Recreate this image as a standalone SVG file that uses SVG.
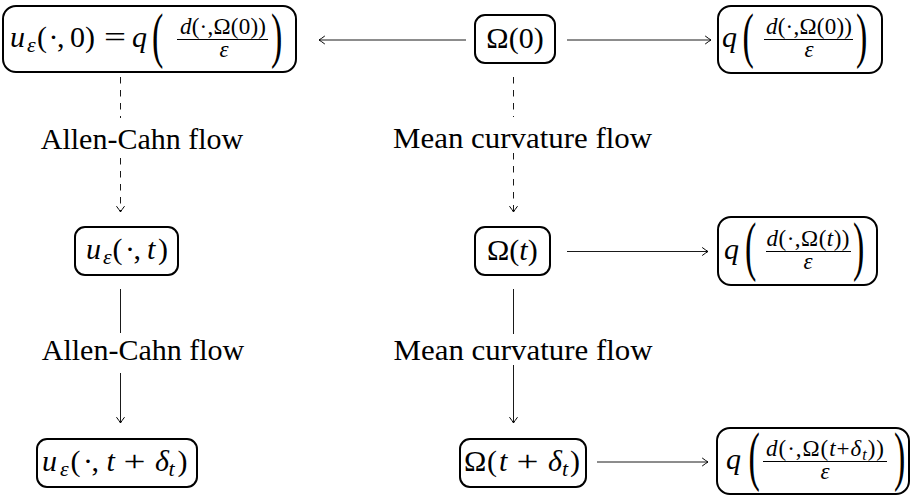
<svg xmlns="http://www.w3.org/2000/svg" width="911" height="495" viewBox="0 0 911 495" font-family="'Liberation Serif', 'DejaVu Serif', serif">
<style>
text{font-family:'Liberation Serif','DejaVu Serif',serif;fill:#000}
.m{font-size:30px}
.i{font-style:italic}
.s{font-size:22px}
.n{font-size:23px;text-anchor:middle}
.lab{font-size:30px;text-anchor:middle}
.box{fill:#fff;stroke:#000;stroke-width:2}
.ln{stroke:#000;stroke-width:0.9;fill:none}
.d{stroke-dasharray:6.5 6.5}
.bar{stroke:#000;stroke-width:1}
.big{font-size:34px}
</style>
<defs>
<marker id="ah" markerUnits="userSpaceOnUse" markerWidth="12" markerHeight="12" refX="0" refY="0" viewBox="-7 -6 8 12" orient="auto" overflow="visible">
<path d="M-5.5,-3.8 Q-1.8,-1 0,0 Q-1.8,1 -5.5,3.8" fill="none" stroke="#000" stroke-width="1" stroke-linecap="round"/>
</marker>
</defs>
<g id="connectors">
<line class="ln" x1="466" y1="40" x2="319" y2="40" marker-end="url(#ah)"/>
<line class="ln" x1="567" y1="40" x2="711" y2="40" marker-end="url(#ah)"/>
<line class="ln" x1="567" y1="251.5" x2="708" y2="251.5" marker-end="url(#ah)"/>
<line class="ln" x1="597" y1="462" x2="708" y2="462" marker-end="url(#ah)"/>
<line class="ln d" x1="120.5" y1="77" x2="120.5" y2="118"/>
<line class="ln d" x1="120.5" y1="158" x2="120.5" y2="212" marker-end="url(#ah)"/>
<line class="ln d" x1="513.5" y1="77" x2="513.5" y2="117"/>
<line class="ln d" x1="513.5" y1="153" x2="513.5" y2="212" marker-end="url(#ah)"/>
<line class="ln" x1="120.5" y1="289" x2="120.5" y2="333"/>
<line class="ln" x1="120.5" y1="373" x2="120.5" y2="423" marker-end="url(#ah)"/>
<line class="ln" x1="513.5" y1="289" x2="513.5" y2="334"/>
<line class="ln" x1="513.5" y1="365" x2="513.5" y2="423" marker-end="url(#ah)"/>
</g>
<g id="labels">
<text class="lab" x="142" y="149">Allen-Cahn flow</text>
<text class="lab" x="522.5" y="148" textLength="259" lengthAdjust="spacingAndGlyphs">Mean curvature flow</text>
<text class="lab" x="143" y="360">Allen-Cahn flow</text>
<text class="lab" x="523" y="360" textLength="259" lengthAdjust="spacingAndGlyphs">Mean curvature flow</text>
</g>
<g id="node-u0">
<rect class="box" x="3" y="6" width="293" height="66" rx="13"/>
<text class="m i" x="10" y="47">u</text>
<text class="s i" x="27" y="52">ε</text>
<text class="m" x="37 48.5 57 70 85" y="47">(·,0)</text>
<text class="m" transform="translate(104,47) scale(1.3,1)">=</text>
<text class="m i" x="132" y="47">q</text>
<text class="big" transform="translate(152,55.5) scale(1,1.824)">(</text>
<text class="n" x="223" y="34" textLength="86"><tspan class="i">d</tspan>(·,Ω(0))</text>
<line class="bar" x1="177" y1="39.5" x2="268" y2="39.5"/>
<text class="n i" x="224" y="57">ε</text>
<text class="big" transform="translate(271,55.5) scale(1,1.824)">)</text>
</g>
<g id="node-omega0">
<rect class="box" x="475" y="15" width="80" height="48" rx="10"/>
<text class="m" x="515" y="48" text-anchor="middle">Ω(0)</text>
</g>
<g id="node-q0">
<rect class="box" x="718" y="6" width="164" height="67" rx="13"/>
<text class="m i" x="722" y="47">q</text>
<text class="big" transform="translate(742.5,55.5) scale(1,1.824)">(</text>
<text class="n" x="809" y="34" textLength="86"><tspan class="i">d</tspan>(·,Ω(0))</text>
<line class="bar" x1="764" y1="39.5" x2="853" y2="39.5"/>
<text class="n i" x="809" y="57">ε</text>
<text class="big" transform="translate(856,55.5) scale(1,1.824)">)</text>
</g>
<g id="node-ut">
<rect class="box" x="75" y="227" width="103" height="48" rx="10"/>
<text class="m i" x="86" y="259">u</text>
<text class="s i" x="103" y="264">ε</text>
<text class="m" x="112.5 125 133.5" y="259">(·,</text>
<text class="m i" x="147" y="259">t</text>
<text class="m" x="158" y="259">)</text>
</g>
<g id="node-omegat">
<rect class="box" x="475" y="227" width="75" height="48" rx="10"/>
<text class="m" x="487" y="260">Ω(<tspan class="i">t</tspan>)</text>
</g>
<g id="node-qt">
<rect class="box" x="718" y="217" width="159" height="68" rx="13"/>
<text class="m i" x="724" y="259">q</text>
<text class="big" transform="translate(745,268) scale(1,1.93)">(</text>
<text class="n" x="808" y="246" textLength="83"><tspan class="i">d</tspan>(·,Ω(<tspan class="i">t</tspan>))</text>
<line class="bar" x1="766" y1="251.5" x2="851" y2="251.5"/>
<text class="n i" x="808" y="269">ε</text>
<text class="big" transform="translate(853,268) scale(1,1.93)">)</text>
</g>
<g id="node-utd">
<rect class="box" x="37" y="439" width="160" height="48" rx="10"/>
<text class="m i" x="42" y="471">u</text>
<text class="s i" x="60" y="476">ε</text>
<text class="m" x="70.5 83 91.5" y="471">(·,</text>
<text class="m i" x="106.5" y="471">t</text>
<text class="m" transform="translate(123.5,471) scale(1.3,1)">+</text>
<text class="m i" x="155" y="471">δ</text>
<text class="s i" x="168.5" y="476">t</text>
<text class="m" x="177.5" y="471">)</text>
</g>
<g id="node-omegatd">
<rect class="box" x="460" y="439" width="126" height="48" rx="10"/>
<text class="m" x="464" y="471">Ω</text>
<text class="m" x="487" y="471">(</text>
<text class="m i" x="499" y="471">t</text>
<text class="m" transform="translate(516.5,471) scale(1.3,1)">+</text>
<text class="m i" x="548" y="471">δ</text>
<text class="s i" x="562" y="476">t</text>
<text class="m" x="570" y="471">)</text>
</g>
<g id="node-qtd">
<rect class="box" x="717" y="428" width="192" height="66" rx="13"/>
<text class="m i" x="726" y="469">q</text>
<text class="big" transform="translate(748.5,478) scale(1,1.93)">(</text>
<text class="n" x="825" y="456" textLength="118"><tspan class="i">d</tspan>(·,Ω(<tspan class="i">t</tspan>+<tspan class="i">δ</tspan><tspan class="i" font-size="16" dy="4">t</tspan><tspan dy="-4">))</tspan></text>
<line class="bar" x1="763" y1="461.5" x2="887" y2="461.5"/>
<text class="n i" x="825" y="479">ε</text>
<text class="big" transform="translate(894,478) scale(1,1.93)">)</text>
</g>
</svg>
